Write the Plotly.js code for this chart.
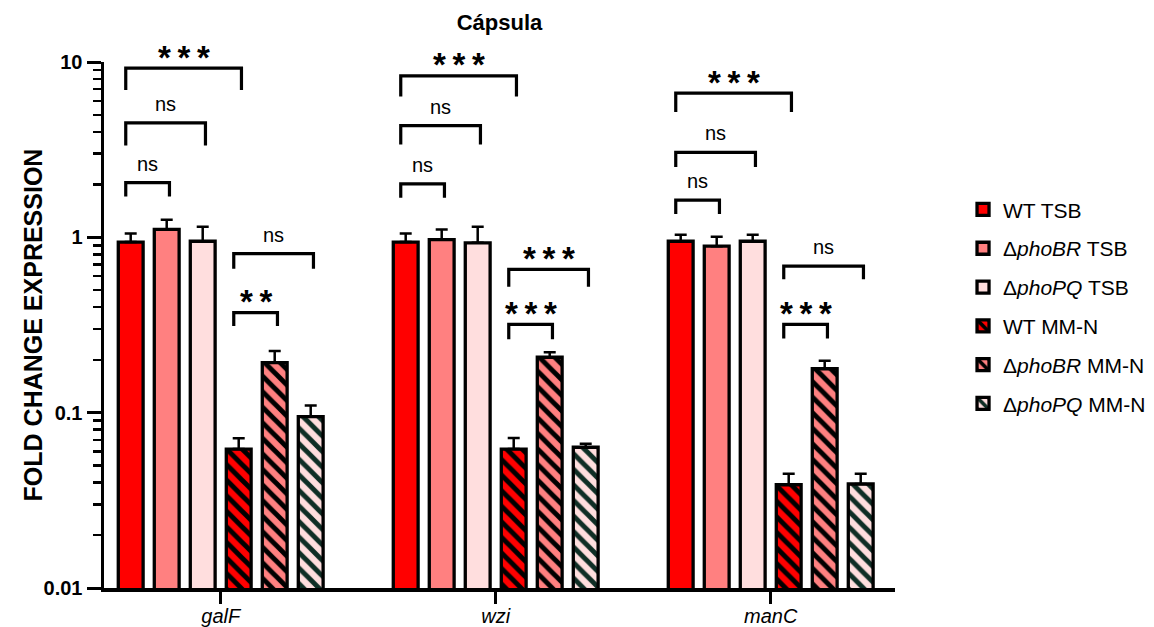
<!DOCTYPE html>
<html>
<head>
<meta charset="utf-8">
<script src="https://cdn.plot.ly/plotly-3.0.1.min.js"></script>
<style>html,body{margin:0;padding:0;background:#fff;}#chart{width:1154px;height:627px;}</style>
</head>
<body>
<div id="chart"></div>
<script>
// ---- data ----
const genes = ['galF', 'wzi', 'manC'];
const geneLabels = ['<i>galF</i>', '<i>wzi</i>', '<i>manC</i>'];
const seriesNames = ['WT TSB', 'Δ<i>phoBR</i> TSB', 'Δ<i>phoPQ</i> TSB', 'WT MM-N', 'Δ<i>phoBR</i> MM-N', 'Δ<i>phoPQ</i> MM-N'];
const wtTSB      = [0.94, 0.94, 0.95];
const phoBRTSB   = [1.11, 0.97, 0.89];
const phoPQTSB   = [0.95, 0.93, 0.95];
const wtMMN      = [0.062, 0.062, 0.0388];
const phoBRMMN   = [0.193, 0.207, 0.178];
const phoPQMMN   = [0.095, 0.0635, 0.0392];
const wtTSBErr    = [0.11, 0.11, 0.085];
const phoBRTSBErr = [0.15, 0.14, 0.118];
const phoPQTSBErr = [0.20, 0.22, 0.085];
const wtMMNErr    = [0.0095, 0.0098, 0.006];
const phoBRMMNErr = [0.032, 0.014, 0.02];
const phoPQMMNErr = [0.015, 0.003, 0.0056];
// significance brackets: [gene index, first bar, last bar, top level, leg bottom level, label]
const brackets = [
  [0, 0, 3, 9.22, 6.93, '***'],
  [0, 0, 2, 4.49, 3.34, 'ns'],
  [0, 0, 1, 2.05, 1.71, 'ns'],
  [0, 3, 5, 0.807, 0.662, 'ns'],
  [0, 3, 4, 0.372, 0.312, '**'],
  [1, 0, 3, 8.34, 6.36, '***'],
  [1, 0, 2, 4.34, 3.38, 'ns'],
  [1, 0, 1, 2.02, 1.68, 'ns'],
  [1, 3, 5, 0.656, 0.523, '***'],
  [1, 3, 4, 0.319, 0.262, '***'],
  [2, 0, 3, 6.65, 5.18, '***'],
  [2, 0, 2, 3.05, 2.52, 'ns'],
  [2, 0, 1, 1.63, 1.36, 'ns'],
  [2, 3, 5, 0.686, 0.576, 'ns'],
  [2, 3, 4, 0.319, 0.265, '***']
];

// ---- styling ----
const values = [wtTSB, phoBRTSB, phoPQTSB, wtMMN, phoBRMMN, phoPQMMN];
const errs = [wtTSBErr, phoBRTSBErr, phoPQTSBErr, wtMMNErr, phoBRMMNErr, phoPQMMNErr];
const fills = ['#FF0000', '#FF8080', '#FFDEDE', '#FF0000', '#FF8080', '#FFDEDE'];
const stripeColors = [null, null, null, '#000000', '#000000', '#0f2e25'];
const FONT = 'Arial, "Liberation Sans", sans-serif';
const bargap = 0.2145;
const slot = (1 - bargap) / 6;
const xs = genes.map((g, i) => i);

const traces = values.map((v, k) => {
  const marker = {color: fills[k], line: {color: '#000', width: 3.3}};
  if (stripeColors[k]) {
    marker.pattern = {shape: '\\', bgcolor: fills[k], fgcolor: stripeColors[k], fgopacity: 1, size: 11, solidity: 0.45, fillmode: 'replace'};
  }
  return {
    type: 'bar', x: xs, y: v, name: seriesNames[k], legendgroup: 'g' + k,
    marker: marker,
    error_y: {type: 'data', symmetric: false, array: errs[k], arrayminus: v.map(() => 0), color: '#000', thickness: 2.5, width: 6},
    hoverinfo: 'skip'
  };
});

// bracket lines
const bx = [], by = [];
const annotations = [];
brackets.forEach(b => {
  const [gi, a, c, top, bot, lab] = b;
  const x0 = gi + (a - 2.5) * slot - 0.018;
  const x1 = gi + (c - 2.5) * slot + 0.01;
  bx.push(x0, x0, x1, x1, null);
  by.push(bot, top, top, bot, null);
  const star = lab.indexOf('*') >= 0;
  annotations.push({
    x: (x0 + x1) / 2, y: Math.log10(top), xref: 'x', yref: 'y',
    text: star ? lab.split('').join('\u2009') : lab,
    showarrow: false, yanchor: 'middle',
    yshift: star ? 11 : 19,
    font: {family: FONT, size: star ? 33 : 20, color: '#000', weight: star ? 'bold' : 'normal'}
  });
});
traces.push({type: 'scatter', mode: 'lines', x: bx, y: by, connectgaps: false,
  line: {color: '#000', width: 3.2}, showlegend: false, hoverinfo: 'skip', cliponaxis: false});

const minorVals = [];
[0.01, 0.1, 1].forEach(d => { for (let m = 2; m <= 9; m++) minorVals.push(d * m); });

const layout = {
  width: 1154, height: 627,
  margin: {l: 104, r: 259, t: 62, b: 39, autoexpand: false},
  paper_bgcolor: '#fff', plot_bgcolor: '#fff',
  font: {family: FONT, color: '#000'},
  barmode: 'group', bargap: bargap, bargroupgap: 0.31,
  showlegend: true,
  title: {text: 'Cápsula', font: {family: FONT, size: 22, weight: 'bold', color: '#000'},
          x: 0.5, xref: 'paper', xanchor: 'center', y: 0.965, yref: 'container', yanchor: 'middle'},
  xaxis: {
    range: [-0.4244, 2.452], tickmode: 'array', tickvals: xs, ticktext: geneLabels,
    ticks: 'outside', ticklen: 12, tickwidth: 3, tickcolor: '#000', ticklabelstandoff: -5,
    showline: true, linewidth: 3.5, linecolor: '#000', showgrid: false, zeroline: false,
    tickfont: {family: FONT, size: 20, color: '#000'}, fixedrange: true
  },
  yaxis: {
    type: 'log', range: [-2, 1], tickmode: 'array', tickvals: [0.01, 0.1, 1, 10], ticktext: ['0.01', '0.1', '1', '10'],
    ticks: 'outside', ticklen: 14, tickwidth: 3, tickcolor: '#000',
    minor: {tickmode: 'array', tickvals: minorVals, ticks: 'outside', ticklen: 8, tickwidth: 2.5, tickcolor: '#000', showgrid: false},
    showline: true, linewidth: 3.5, linecolor: '#000', showgrid: false, zeroline: false,
    tickfont: {family: FONT, size: 20, weight: 'bold', color: '#000'},
    title: {text: 'FOLD CHANGE EXPRESSION', font: {family: FONT, size: 25, weight: 'bold', color: '#000'}},
    fixedrange: true
  },
  legend: {
    x: 1.086, xanchor: 'left', y: 0.758, yanchor: 'top',
    font: {family: FONT, size: 21, color: '#000'}, tracegroupgap: 8.5,
    bgcolor: 'rgba(0,0,0,0)', traceorder: 'grouped'
  },
  annotations: annotations
};

Plotly.newPlot('chart', traces, layout, {displayModeBar: false, staticPlot: true});
</script>
</body>
</html>
